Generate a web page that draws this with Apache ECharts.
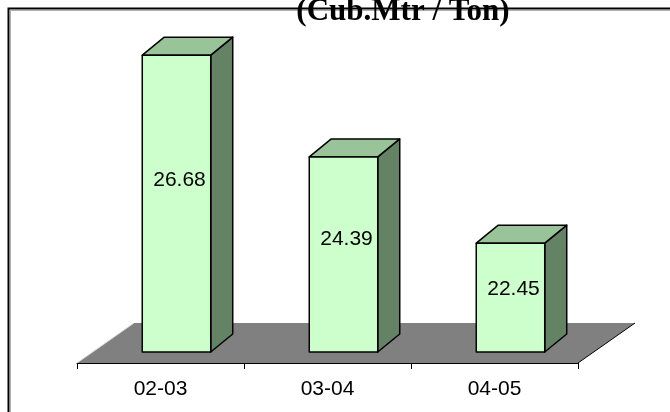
<!DOCTYPE html>
<html>
<head>
<meta charset="utf-8">
<script src="https://cdn.jsdelivr.net/npm/echarts@6/dist/echarts.min.js"></script>
<style>
  html, body { margin: 0; padding: 0; background: #ffffff; }
  #chart { width: 670px; height: 412px; }
</style>
</head>
<body>
<div id="chart"></div>
<script>
// Specific water consumption by year
const categories = ['02-03', '03-04', '04-05'];
const values = [26.68, 24.39, 22.45];
const titleText = '(Cub.Mtr / Ton)';
const valueMin = 20;
const valueMax = 28;

// Oblique projection used for the depth direction
const FLOOR_DX = 57, FLOOR_DY = 40;   // full floor depth
const BAR_DX = 22, BAR_DY = 18;       // bar depth
const BAR_SHIFT_X = 16, BAR_SHIFT_Y = 11; // bars stand mid-way into the floor
const BAR_RATIO = 0.41;

const FRONT = '#CCFFCC', TOP = '#99C499', SIDE = '#648264', EDGE = '#000000';

const chart = echarts.init(document.getElementById('chart'), null, { renderer: 'canvas' });

function renderFloor(params, api) {
  const cs = params.coordSys;
  const x0 = cs.x, x1 = cs.x + cs.width, y = cs.y + cs.height;
  return {
    type: 'group',
    children: [
      { type: 'polygon',
        shape: { points: [[x0, y], [x1, y], [x1 + FLOOR_DX, y - FLOOR_DY], [x0 + FLOOR_DX, y - FLOOR_DY]] },
        style: { fill: '#808080' } },
      { type: 'line',
        shape: { x1: x1, y1: y, x2: x1 + FLOOR_DX, y2: y - FLOOR_DY },
        style: { stroke: '#000000', lineWidth: 1 } },
      { type: 'line',
        shape: { x1: x0, y1: y, x2: x0 + FLOOR_DX, y2: y - FLOOR_DY },
        style: { stroke: '#d8d8d8', lineWidth: 1 } }
    ]
  };
}

function renderBar(params, api) {
  const idx = api.value(0);
  const v = api.value(1);
  const topPt = api.coord([idx, v]);
  const basePt = api.coord([idx, valueMin]);
  const w = api.size([1, 0])[0] * BAR_RATIO;
  const xl = topPt[0] + BAR_SHIFT_X - w / 2;
  const xr = xl + w;
  const yt = topPt[1] - BAR_SHIFT_Y;
  const yb = basePt[1] - BAR_SHIFT_Y;
  const edge = { stroke: EDGE, lineWidth: 1.5, lineJoin: 'round' };
  return {
    type: 'group',
    children: [
      { type: 'polygon',
        shape: { points: [[xr, yt], [xr + BAR_DX, yt - BAR_DY], [xr + BAR_DX, yb - BAR_DY], [xr, yb]] },
        style: Object.assign({ fill: SIDE }, edge) },
      { type: 'polygon',
        shape: { points: [[xl, yt], [xl + BAR_DX, yt - BAR_DY], [xr + BAR_DX, yt - BAR_DY], [xr, yt]] },
        style: Object.assign({ fill: TOP }, edge) },
      { type: 'rect',
        shape: { x: xl, y: yt, width: w, height: yb - yt },
        style: Object.assign({ fill: FRONT }, edge) },
      { type: 'text',
        x: (xl + xr) / 2 + 3,
        y: yb - 0.58 * (yb - yt),
        style: {
          text: String(values[idx]),
          fill: '#000000',
          font: '21px "Liberation Sans", Arial, sans-serif',
          align: 'center',
          verticalAlign: 'middle'
        } }
    ]
  };
}

const option = {
  animation: false,
  backgroundColor: '#ffffff',
  grid: { left: 77, right: 92, top: 7.5, bottom: 49, containLabel: false },
  xAxis: {
    type: 'category',
    data: categories,
    boundaryGap: true,
    axisLine: { show: true, lineStyle: { color: '#000000', width: 1 } },
    axisTick: { show: true, length: 6, lineStyle: { color: '#000000', width: 1 } },
    axisLabel: {
      color: '#000000',
      fontSize: 21,
      fontFamily: '"Liberation Sans", Arial, sans-serif',
      margin: 16
    },
    splitLine: { show: false },
    z: 5
  },
  yAxis: {
    type: 'value',
    min: valueMin,
    max: valueMax,
    show: false,
    splitLine: { show: false }
  },
  graphic: [
    { type: 'polyline',
      shape: { points: [[8.5, 412], [8.5, 8.5], [670, 8.5]] },
      style: { stroke: '#000000', lineWidth: 2, fill: null },
      z: 1 },
    { type: 'polyline',
      shape: { points: [[10.5, 412], [10.5, 10.5], [670, 10.5]] },
      style: { stroke: '#b0b0b0', lineWidth: 1, fill: null },
      z: 1 },
    { type: 'text',
      x: 403, y: 12,
      style: {
        text: titleText,
        fill: '#000000',
        font: 'bold 31px "Liberation Serif", "Times New Roman", serif',
        align: 'center',
        verticalAlign: 'middle'
      },
      z: 10 }
  ],
  series: [
    { type: 'custom', name: 'floor', renderItem: renderFloor, data: [[0, valueMin]], clip: false, silent: true, z: 1 },
    { type: 'custom', name: 'values', renderItem: renderBar,
      data: values.map((v, i) => [i, v]), clip: false, z: 3 }
  ]
};

chart.setOption(option);
</script>
</body>
</html>
